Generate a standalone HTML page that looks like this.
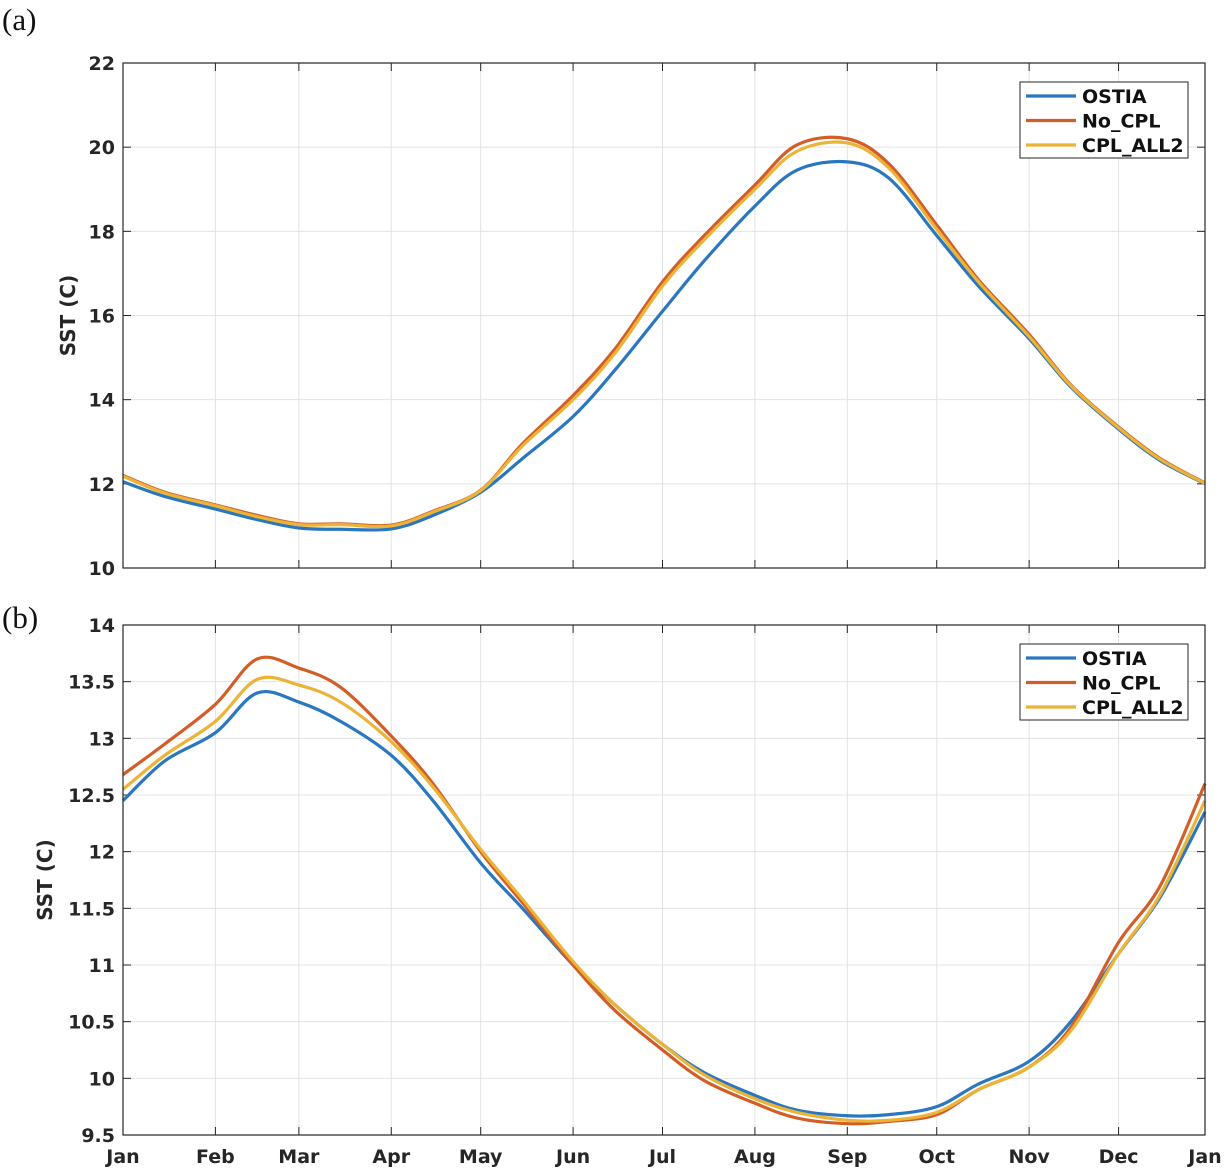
<!DOCTYPE html>
<html><head><meta charset="utf-8"><style>
html,body{margin:0;padding:0;background:#fff;}
svg{display:block;font-family:"DejaVu Sans","Liberation Sans",sans-serif;}
</style></head><body>
<svg id="chart" width="1228" height="1170" viewBox="0 0 1228 1170"></svg>
<script>
const days = [0,14,31,45,59,73,90,104,120,134,151,165,181,195,212,226,243,257,273,287,304,318,334,348,363];
const monthLabels = ["Jan","Feb","Mar","Apr","May","Jun","Jul","Aug","Sep","Oct","Nov","Dec","Jan"];
const monthDays = [0,31,59,90,120,151,181,212,243,273,304,334,363];
const seriesNames = ["OSTIA","No_CPL","CPL_ALL2"];
const seriesColors = ["#2a77c0","#d35d27","#ebb437"];
const aTicks = [10,12,14,16,18,20,22];
const aOSTIA = [12.05,11.7,11.4,11.15,10.95,10.92,10.93,11.25,11.8,12.6,13.6,14.7,16.1,17.3,18.6,19.45,19.65,19.26,17.9,16.7,15.45,14.3,13.3,12.55,12.0];
const aNoCPL = [12.2,11.8,11.5,11.25,11.05,11.05,11.02,11.35,11.85,12.95,14.1,15.2,16.8,17.9,19.1,20.05,20.2,19.6,18.15,16.85,15.55,14.35,13.35,12.6,12.02];
const aCPL = [12.18,11.78,11.48,11.22,11.03,11.03,11.0,11.33,11.84,12.9,14.0,15.1,16.7,17.8,19.0,19.9,20.1,19.5,18.05,16.8,15.5,14.33,13.33,12.58,12.01];
const bTicks = [9.5,10,10.5,11,11.5,12,12.5,13,13.5,14];
const bTickLabels = ["9.5","10","10.5","11","11.5","12","12.5","13","13.5","14"];
const bOSTIA = [12.45,12.8,13.05,13.4,13.32,13.15,12.85,12.45,11.9,11.5,11.0,10.65,10.3,10.05,9.85,9.72,9.67,9.68,9.75,9.95,10.15,10.5,11.1,11.6,12.35];
const bNoCPL = [12.68,12.95,13.3,13.7,13.62,13.45,13.02,12.6,12.0,11.55,11.0,10.6,10.25,9.98,9.78,9.65,9.6,9.62,9.68,9.9,10.1,10.45,11.2,11.7,12.6];
const bCPL = [12.55,12.85,13.15,13.52,13.47,13.32,12.97,12.57,12.02,11.58,11.03,10.65,10.3,10.03,9.82,9.7,9.63,9.63,9.7,9.9,10.1,10.42,11.1,11.62,12.45];

const NS="http://www.w3.org/2000/svg";
const svg=document.getElementById('chart');
function mk(tag,attrs,parent){const e=document.createElementNS(NS,tag);for(const k in attrs)e.setAttribute(k,attrs[k]);(parent||svg).appendChild(e);return e;}
const X0=123,X1=1205,DSPAN=363;
function xs(d){return X0+(X1-X0)*d/DSPAN;}
function smooth(pts){let d="M"+pts[0][0]+","+pts[0][1];for(let i=0;i<pts.length-1;i++){const p0=pts[Math.max(0,i-1)],p1=pts[i],p2=pts[i+1],p3=pts[Math.min(pts.length-1,i+2)];const c1x=p1[0]+(p2[0]-p0[0])/6,c1y=p1[1]+(p2[1]-p0[1])/6,c2x=p2[0]-(p3[0]-p1[0])/6,c2y=p2[1]-(p3[1]-p1[1])/6;d+=` C${c1x},${c1y} ${c2x},${c2y} ${p2[0]},${p2[1]}`;}return d;}

function panel(id,Y0,Y1,vmin,vmax,ticks,tickLabels,series,letter,letterY,showX,titleX){
  const g=mk('g',{});
  
  
  const ys=v=>Y1-(v-vmin)/(vmax-vmin)*(Y1-Y0);
  monthDays.forEach(d=>{const l=mk('line',{x1:xs(d),x2:xs(d),y1:Y0,y2:Y1,stroke:'#e3e3e3','stroke-width':1},g);});
  ticks.forEach((v,i)=>{const l=mk('line',{x1:X0,x2:X1,y1:ys(v),y2:ys(v),stroke:'#e3e3e3','stroke-width':1},g);
    const t=mk('text',{x:X0-8,y:ys(v)+7,'text-anchor':'end','font-size':19,'font-weight':'bold',fill:'#262626'},g);t.textContent=tickLabels[i];
    mk('line',{x1:X0,x2:X0+8,y1:ys(v),y2:ys(v),stroke:'#262626'},g);mk('line',{x1:X1,x2:X1-8,y1:ys(v),y2:ys(v),stroke:'#262626'},g);});
  monthDays.forEach((d,i)=>{mk('line',{x1:xs(d),x2:xs(d),y1:Y1,y2:Y1-8,stroke:'#262626'},g);mk('line',{x1:xs(d),x2:xs(d),y1:Y0,y2:Y0+8,stroke:'#262626'},g);
    if(showX){const t=mk('text',{x:xs(d),y:Y1+28,'text-anchor':'middle','font-size':19,'font-weight':'bold',fill:'#262626'},g);t.textContent=monthLabels[i];}});
  series.forEach((s,k)=>{const p=mk('path',{d:smooth(days.map((d,i)=>[xs(d),ys(s[i])])),fill:'none',stroke:seriesColors[k],'stroke-width':3.2,'stroke-linejoin':'round'},g);});
  const fr=mk('rect',{x:X0,y:Y0,width:X1-X0,height:Y1-Y0,fill:'none',stroke:'#262626','stroke-width':1.2},g);
  const yt=mk('text',{transform:`translate(${titleX},${(Y0+Y1)/2}) rotate(-90)`,'text-anchor':'middle','font-size':20,'font-weight':'bold',fill:'#262626'},g);yt.textContent='SST (C)';
  const lt=mk('text',{x:2,y:letterY,'font-size':31,'font-family':'Liberation Serif, serif',fill:'#111'},g);lt.textContent=letter;
  const lg=mk('g',{},g);
  const ly=Y0+19;
  mk('rect',{x:1020,y:ly,width:168,height:76,fill:'#fff',stroke:'#262626','stroke-width':1},lg);
  seriesNames.forEach((n,k)=>{const yy=ly+14+k*24.5;mk('line',{x1:1026,x2:1076,y1:yy,y2:yy,stroke:seriesColors[k],'stroke-width':3.2},lg);
    const t=mk('text',{x:1082,y:yy+7,'font-size':19,'font-weight':'bold',fill:'#111'},lg);t.textContent=n;});
}
panel('a',63,568,10,22,aTicks,aTicks.map(String),[aOSTIA,aNoCPL,aCPL],'(a)',30,false,75);
panel('b',625,1135,9.5,14,bTicks,bTickLabels,[bOSTIA,bNoCPL,bCPL],'(b)',628,true,52);
</script>
</body></html>
